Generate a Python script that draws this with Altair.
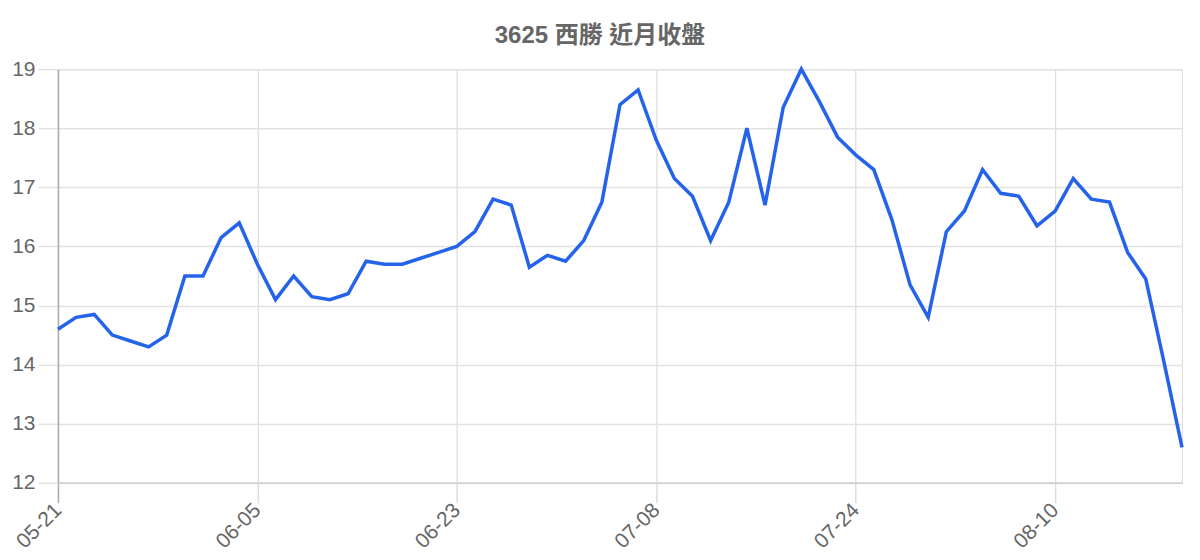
import altair as alt
import pandas as pd

dates = [
    "05-21", "05-22", "05-23", "05-26", "05-27", "05-28", "05-29", "05-30", "06-02", "06-03",
    "06-04", "06-05", "06-06", "06-09", "06-10", "06-11", "06-12", "06-13", "06-16", "06-17",
    "06-18", "06-20", "06-23", "06-24", "06-25", "06-26", "06-27", "06-30", "07-01", "07-02",
    "07-03", "07-04", "07-07", "07-08", "07-09", "07-10", "07-11", "07-14", "07-15", "07-16",
    "07-17", "07-18", "07-21", "07-22", "07-24", "07-25", "07-28", "07-29", "07-30", "07-31",
    "08-01", "08-04", "08-05", "08-06", "08-07", "08-10", "08-11", "08-12", "08-13", "08-14",
    "08-15", "08-18", "08-19",
]

close = [
    14.6, 14.8, 14.85, 14.5, 14.4, 14.3, 14.5, 15.5, 15.5, 16.15,
    16.4, 15.7, 15.1, 15.5, 15.15, 15.1, 15.2, 15.75, 15.7, 15.7,
    15.8, 15.9, 16.0, 16.25, 16.8, 16.7, 15.65, 15.85, 15.75, 16.1,
    16.75, 18.4, 18.65, 17.8, 17.15, 16.85, 16.1, 16.75, 18.0, 16.7,
    18.35, 19.0, 18.45, 17.85, 17.55, 17.3, 16.45, 15.35, 14.8, 16.25,
    16.6, 17.3, 16.9, 16.85, 16.35, 16.6, 17.15, 16.8, 16.75, 15.9,
    15.45, 14.05, 12.6,
]

tick_labels = ["05-21", "06-05", "06-23", "07-08", "07-24", "08-10"]
y_ticks = [12, 13, 14, 15, 16, 17, 18, 19]

title_text = "3625 西勝 近月收盤"

df = pd.DataFrame({"date": dates, "close": close})

FONT = "Liberation Sans, Noto Sans CJK TC, sans-serif"

chart = (
    alt.Chart(df)
    .mark_line(color="#2563eb", strokeWidth=3.5, strokeJoin="miter", strokeCap="butt")
    .encode(
        x=alt.X(
            "date:O",
            sort=None,
            scale=alt.Scale(type="point", padding=0),
            axis=alt.Axis(
                title=None,
                values=tick_labels,
                labelAngle=-45,
                labelAlign="right",
                labelBaseline="middle",
                labelFontSize=21,
                labelColor="#666666",
                labelFont=FONT,
                labelPadding=4,
                tickSize=20,
                tickWidth=1.5,
                tickColor=alt.condition(
                    "datum.value == '05-21'", alt.value("#aaaaaa"), alt.value("#dddddd")
                ),
                grid=True,
                gridColor="#dddddd",
                gridWidth=1.2,
                domainColor="#cccccc",
                domainWidth=1.5,
            ),
        ),
        y=alt.Y(
            "close:Q",
            scale=alt.Scale(domain=[12, 19], nice=False, zero=False),
            axis=alt.Axis(
                title=None,
                values=y_ticks,
                labelFontSize=21,
                labelColor="#666666",
                labelFont=FONT,
                labelPadding=3,
                tickSize=20,
                tickWidth=1.5,
                tickColor="#e2e2e2",
                grid=True,
                gridColor="#e2e2e2",
                gridWidth=1.5,
                domainColor="#aaaaaa",
                domainWidth=1.5,
            ),
        ),
    )
    .properties(
        width=1125,
        height=414,
        title=alt.Title(
            title_text,
            fontSize=24,
            fontWeight="bold",
            color="#666666",
            font=FONT,
            anchor="middle",
            offset=10,
            dx=-20,
        ),
        autosize=alt.AutoSizeParams(type="none"),
        padding={"left": 50, "top": 61, "right": 10, "bottom": 70},
    )
    .configure_view(stroke=None)
    .configure(background="white")
)

chart.save("out.html", embed_options={"renderer": "svg", "actions": False})
